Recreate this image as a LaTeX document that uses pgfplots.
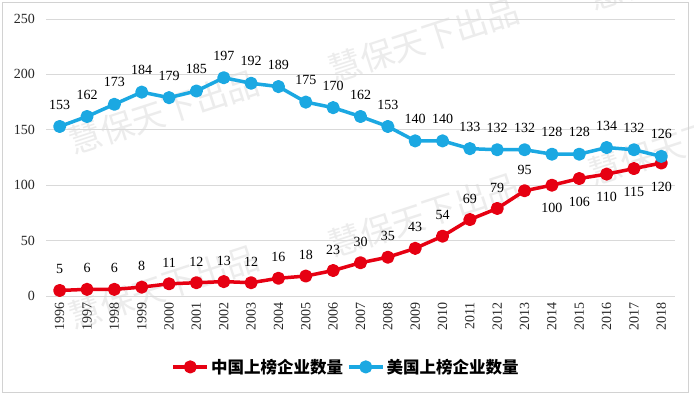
\documentclass[border=0pt]{standalone}
\usepackage{fontspec}
\setmainfont{Liberation Serif}
\newfontfamily\cjk{Noto Sans CJK SC}
\usepackage{pgfplots}
\usepackage{pgfplotstable}
\pgfplotsset{compat=1.18}
\definecolor{cnred}{RGB}{230,0,18}
\definecolor{usblue}{RGB}{27,168,226}
\definecolor{gridgray}{RGB}{217,217,217}
\definecolor{wm}{RGB}{236,236,236}
\definecolor{ticktext}{RGB}{40,40,40}

\pgfplotstableread{
year us cn off
1996 153 5 21
1997 162 6 21
1998 173 6 21
1999 184 8 21
2000 179 11 21
2001 185 12 21
2002 197 13 21
2003 192 12 21
2004 189 16 21
2005 175 18 21
2006 170 23 21
2007 162 30 21
2008 153 35 21
2009 140 43 21
2010 140 54 21
2011 133 69 21
2012 132 79 21
2013 132 95 21
2014 128 100 -23
2015 128 106 -23
2016 134 110 -23
2017 132 115 -23
2018 126 120 -24
}\data

\begin{document}
\begin{tikzpicture}
\useasboundingbox (0bp,0bp) rectangle (694bp,395bp);
\fill[white] (0bp,0bp) rectangle (694bp,395bp);
\begin{scope}
\clip (0bp,0bp) rectangle (694bp,395bp);
\foreach \x/\y in {164/283, 424/355, 684/427, 164/108, 424/180, 684/252}{
  \node[text=wm, rotate=18, font=\cjk\fontsize{33bp}{33bp}\selectfont] at (\x bp, \y bp) {慧保天下出品};
}
\end{scope}
\draw[gray!35, line width=0.8bp] (2bp,3bp) rectangle (688bp,393bp);
\begin{axis}[
  at={(46bp,99bp)}, anchor=south west, scale only axis,
  width=629bp, height=277bp,
  xmin=1995.5, xmax=2018.5, ymin=0, ymax=250,
  xtick={1996,...,2018}, ytick={0,50,...,250},
  axis line style={draw=none},
  ymajorgrids, grid style={gridgray, line width=0.8bp},
  major tick length=0pt,
  /pgf/number format/assume math mode=true,
  /pgf/number format/1000 sep={},
  tick label style={font=\fontsize{14bp}{14bp}\selectfont, text=ticktext},
  xticklabel style={rotate=90, anchor=east, inner sep=0pt},
  xticklabel shift=6bp,
  yticklabel style={anchor=east, inner sep=0pt},
  yticklabel shift=11bp,
  legend columns=2,
  legend style={at={(0.477,-0.256)}, anchor=center, draw=none, fill=none,
    font=\cjk\bfseries\fontsize{16.5bp}{16.5bp}\selectfont,
    /tikz/every even column/.append style={column sep=2bp}},
  legend image code/.code={\draw[mark repeat=2,mark phase=2,#1] plot coordinates {(0bp,0bp) (17bp,0bp) (34bp,0bp)};},
  clip=false,
]
\addplot[cnred, line width=3.5bp, line join=round, mark=*, mark size=4.8bp, mark options={solid, fill=cnred, draw=none},
  visualization depends on={\thisrow{off} \as \off},
  nodes near coords,
  nodes near coords style={anchor=center, yshift=\off*1bp, text=black, font=\fontsize{14bp}{14bp}\selectfont}]
  table[x=year, y=cn] {\data};
\addlegendentry{中国上榜企业数量}
\addplot[usblue, line width=3.5bp, line join=round, mark=*, mark size=4.8bp, mark options={solid, fill=usblue, draw=none},
  nodes near coords,
  nodes near coords style={anchor=center, yshift=22bp, text=black, font=\fontsize{14bp}{14bp}\selectfont}]
  table[x=year, y=us] {\data};
\addlegendentry{美国上榜企业数量}
\end{axis}
\end{tikzpicture}
\end{document}
